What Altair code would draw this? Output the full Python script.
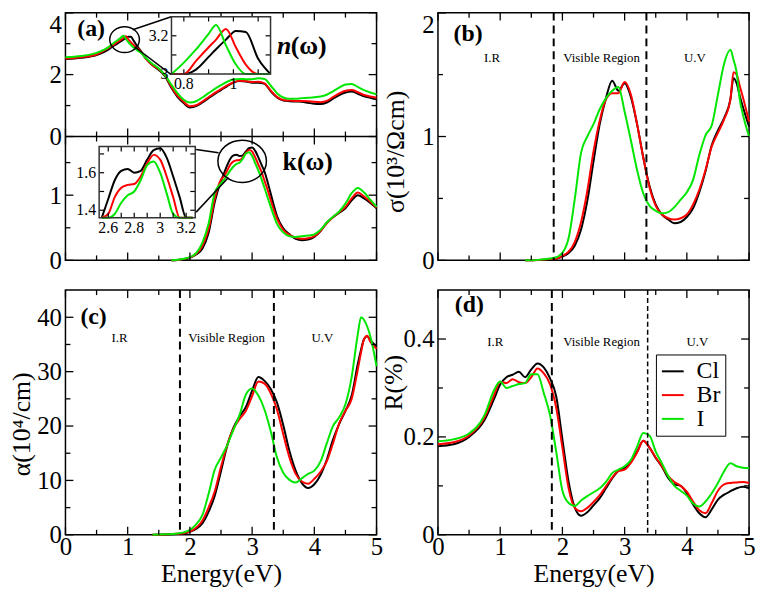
import altair as alt
import pandas as pd

FONT = "Liberation Serif, Times New Roman, serif"
SERIES = ["Cl", "Br", "I"]
COLORS = ["#000000", "#ff0000", "#00e600"]

# ---------------- data: n(omega) ----------------
N_X = [0, 0.25, 0.5, 0.7, 0.75, 0.8, 0.85, 0.9, 0.93, 0.97, 1.01, 1.05, 1.1, 1.15, 1.2,
       1.3, 1.4, 1.5, 1.6, 1.7, 1.8, 1.9, 2.0, 2.1, 2.2, 2.3, 2.4, 2.5, 2.6, 2.7, 2.8, 2.9,
       3.0, 3.1, 3.2, 3.3, 3.4, 3.5, 3.6, 3.7, 3.8, 3.9, 4.0, 4.1, 4.2, 4.3, 4.4, 4.5, 4.6,
       4.7, 4.8, 4.9, 5.0]
N_CL = [2.50, 2.54, 2.63, 2.82, 2.90, 2.96, 3.025, 3.09, 3.13, 3.18, 3.225, 3.22, 3.08, 2.93, 2.79,
        2.50, 2.30, 2.15, 1.95, 1.58, 1.28, 1.08, 0.94, 0.98, 1.10,
        1.24, 1.38, 1.50, 1.63, 1.74, 1.79, 1.78, 1.74, 1.74, 1.70,
        1.46, 1.26, 1.16, 1.14, 1.13, 1.12, 1.09, 1.06, 1.05, 1.10,
        1.22, 1.34, 1.42, 1.45, 1.38, 1.30, 1.25, 1.20]
N_BR = [2.52, 2.56, 2.65, 2.87, 2.93, 3.00, 3.07, 3.14, 3.18, 3.236, 3.14, 3.05, 2.95, 2.86, 2.77,
        2.49, 2.30, 2.17, 1.97, 1.62, 1.32, 1.12, 0.98, 1.01, 1.13,
        1.27, 1.41, 1.53, 1.65, 1.75, 1.80, 1.79, 1.76, 1.77, 1.72,
        1.48, 1.28, 1.18, 1.16, 1.15, 1.15, 1.14, 1.12, 1.11, 1.15,
        1.27, 1.39, 1.48, 1.50, 1.43, 1.34, 1.29, 1.25]
N_I = [2.56, 2.60, 2.70, 2.90, 2.98, 3.06, 3.13, 3.21, 3.256, 3.15, 3.05, 2.96, 2.87, 2.79, 2.72,
       2.52, 2.34, 2.20, 1.98, 1.68, 1.40, 1.19, 1.10, 1.14, 1.26,
       1.40, 1.54, 1.66, 1.77, 1.84, 1.86, 1.85, 1.85, 1.88, 1.86,
       1.64, 1.40, 1.26, 1.22, 1.22, 1.24, 1.25, 1.27, 1.29, 1.35,
       1.46, 1.58, 1.68, 1.70, 1.60, 1.50, 1.42, 1.36]

# ---------------- data: k(omega) ----------------
K_X = [1.7, 1.8, 1.9, 2.0, 2.1, 2.2, 2.3, 2.4, 2.5,
       2.55, 2.6, 2.65, 2.7, 2.75, 2.8, 2.85, 2.9, 2.95, 3.0, 3.05, 3.1, 3.15, 3.2, 3.25, 3.3,
       3.4, 3.5, 3.6, 3.7, 3.8, 3.9, 4.0, 4.1, 4.2, 4.3, 4.4, 4.5, 4.6, 4.7, 4.8, 4.9, 5.0]
K_CL = [0.0, 0.005, 0.015, 0.04, 0.09, 0.18, 0.42, 0.90, 1.22,
        1.34, 1.46, 1.56, 1.61, 1.62, 1.60, 1.61, 1.67, 1.72, 1.73, 1.68, 1.58, 1.47, 1.36, 1.20, 1.02,
        0.68, 0.49, 0.40, 0.33, 0.31, 0.32, 0.36, 0.45, 0.58, 0.66, 0.73, 0.80, 0.92, 1.00, 0.95, 0.88, 0.80]
K_BR = [0.0, 0.006, 0.02, 0.045, 0.10, 0.22, 0.48, 0.95, 1.24,
        1.29, 1.38, 1.47, 1.52, 1.535, 1.54, 1.58, 1.65, 1.695, 1.67, 1.58, 1.47, 1.36, 1.22, 1.08, 0.92,
        0.64, 0.47, 0.39, 0.35, 0.33, 0.34, 0.37, 0.45, 0.57, 0.66, 0.74, 0.82, 0.95, 1.04, 0.98, 0.90, 0.81]
K_I = [0.0, 0.01, 0.025, 0.05, 0.11, 0.27, 0.56, 1.04, 1.18,
       1.24, 1.31, 1.38, 1.44, 1.48, 1.50, 1.56, 1.64, 1.66, 1.60, 1.49, 1.38, 1.25, 1.11, 0.96, 0.82,
       0.56, 0.43, 0.37, 0.36, 0.37, 0.38, 0.40, 0.47, 0.58, 0.67, 0.75, 0.87, 1.03, 1.11, 1.04, 0.93, 0.82]

# ---------------- data: sigma and alpha ----------------
S_X = [1.4, 1.6, 1.8, 1.9, 2.0, 2.1, 2.2, 2.3, 2.4, 2.5, 2.6, 2.7, 2.8, 2.9, 3.0, 3.1, 3.2,
       3.3, 3.4, 3.5, 3.6, 3.7, 3.8, 3.9, 4.0, 4.1, 4.2, 4.3, 4.4, 4.5, 4.6, 4.7, 4.75, 4.8,
       4.85, 4.9, 5.0]
S_CL = [0.0, 0.003, 0.008, 0.013, 0.03, 0.06, 0.12, 0.25, 0.48, 0.80, 1.10, 1.31, 1.45, 1.37,
        1.43, 1.32, 1.10, 0.83, 0.60, 0.45, 0.37, 0.33, 0.30, 0.31, 0.35, 0.42, 0.55, 0.72, 0.93,
        1.05, 1.15, 1.30, 1.47, 1.43, 1.33, 1.24, 1.08]
S_BR = [0.0, 0.003, 0.01, 0.015, 0.035, 0.07, 0.15, 0.31, 0.56, 0.88, 1.13, 1.30, 1.35, 1.35,
        1.44, 1.34, 1.10, 0.83, 0.59, 0.44, 0.37, 0.34, 0.33, 0.34, 0.37, 0.45, 0.57, 0.73, 0.92,
        1.03, 1.14, 1.30, 1.52, 1.50, 1.41, 1.32, 1.12]
S_I = [0.0, 0.004, 0.015, 0.025, 0.06, 0.18, 0.50, 0.87, 1.00, 1.10, 1.22, 1.31, 1.37, 1.40,
       1.20, 0.97, 0.73, 0.54, 0.44, 0.40, 0.38, 0.39, 0.43, 0.49, 0.55, 0.65, 0.85, 1.01, 1.09,
       1.34, 1.59, 1.70, 1.62, 1.52, 1.30, 1.18, 1.00]

A_X = S_X
A_CL = [0.0, 0.05, 0.15, 0.25, 0.55, 1.1, 2.1, 4.2, 7.2, 11.7, 16.4, 19.7, 21.8, 23.5, 26.5,
        29.0, 28.3, 26.8, 24.3, 20.2, 15.4, 11.8, 9.5, 8.6, 9.3, 11.0, 13.8, 17.5, 20.4, 22.8,
        25.6, 31.5, 34.0, 36.0, 36.5, 35.8, 34.6]
A_BR = [0.0, 0.05, 0.18, 0.3, 0.6, 1.3, 2.6, 5.0, 8.0, 12.5, 16.5, 19.5, 21.3, 22.8, 25.5,
        28.2, 27.8, 26.0, 23.0, 18.5, 14.2, 11.2, 9.8, 9.4, 10.3, 11.6, 13.5, 16.8, 20.5, 22.8,
        25.0, 30.5, 33.5, 36.0, 36.6, 35.5, 34.2]
A_I = [0.0, 0.08, 0.25, 0.45, 0.9, 1.9, 3.6, 7.5, 12.0, 14.2, 16.5, 19.3, 22.1, 25.8, 26.9,
       25.6, 23.0, 19.0, 14.2, 11.4, 10.1, 9.6, 10.4, 11.2, 11.8, 13.5, 16.8, 20.0, 21.6, 24.0,
       29.0, 37.0, 40.0, 39.5, 38.3, 36.5, 31.0]

# ---------------- data: reflectivity ----------------
R_X = [0, 0.25, 0.5, 0.75, 0.9, 1.0, 1.1, 1.2, 1.3, 1.4, 1.5, 1.6, 1.7, 1.8, 1.9, 2.0, 2.1,
       2.2, 2.3, 2.4, 2.5, 2.6, 2.7, 2.8, 2.9, 3.0, 3.1, 3.2, 3.3, 3.4, 3.5, 3.6, 3.7, 3.8,
       3.9, 4.0, 4.1, 4.2, 4.3, 4.4, 4.5, 4.6, 4.7, 4.8, 4.9, 5.0]
R_CL = [0.181, 0.185, 0.200, 0.235, 0.277,
        0.307, 0.322, 0.327, 0.333, 0.322, 0.338, 0.350, 0.342, 0.320, 0.283,
        0.195, 0.108, 0.055, 0.039, 0.046, 0.060, 0.075, 0.095, 0.115, 0.131,
        0.137, 0.150, 0.170, 0.192, 0.178, 0.157, 0.139, 0.116, 0.103, 0.100,
        0.085, 0.062, 0.044, 0.036, 0.052, 0.072, 0.082, 0.089, 0.095, 0.098, 0.095]
R_BR = [0.185, 0.189, 0.203, 0.240, 0.285,
        0.312, 0.310, 0.318, 0.312, 0.310, 0.322, 0.340, 0.330, 0.308, 0.260,
        0.178, 0.095, 0.055, 0.048, 0.055, 0.067, 0.081, 0.099, 0.117, 0.130,
        0.133, 0.147, 0.168, 0.192, 0.178, 0.158, 0.140, 0.120, 0.108, 0.100,
        0.088, 0.068, 0.050, 0.044, 0.065, 0.090, 0.103, 0.106, 0.107, 0.108, 0.106]
R_I = [0.191, 0.195, 0.207, 0.245, 0.295,
       0.313, 0.300, 0.304, 0.308, 0.310, 0.328, 0.328, 0.290, 0.245, 0.170,
       0.090, 0.065, 0.059, 0.070, 0.079, 0.087, 0.095, 0.108, 0.126, 0.133,
       0.140, 0.153, 0.180, 0.208, 0.203, 0.170, 0.146, 0.120, 0.100, 0.090,
       0.080, 0.064, 0.058, 0.068, 0.085, 0.106, 0.130, 0.146, 0.140, 0.137, 0.136]

# ---------------- ticks, regions, annotations ----------------
X_MAJ = [0, 1, 2, 3, 4, 5]
X_MIN = [0.5, 1.5, 2.5, 3.5, 4.5]
REGIONS = ["I.R", "Visible Region", "U.V"]
DASH_B, DASH_C, DASH_D = [1.86, 3.35], [1.84, 3.35], [1.83, 3.37]
REG_X_B, REG_X_C, REG_X_D = [0.87, 2.63, 4.13], [0.87, 2.59, 4.13], [0.92, 2.63, 4.17]
REG_Y_B, REG_Y_C, REG_Y_D = 1.60, 35.5, 0.386

ELLIPSE = "M-1,0A1,0.87,0,1,1,1,0A1,0.87,0,1,1,-1,0Z"

W = 314
H_N, H_K, H_C = 125, 125, 247
H_NK = H_N + H_K
H_B, H_D = H_NK, H_C


def long(xs, cl, br, i):
    return pd.DataFrame({
        "x": list(xs) * 3,
        "y": list(cl) + list(br) + list(i),
        "s": [s for s in SERIES for _ in xs],
    })


def color(legend=None):
    return alt.Color("s:N", scale=alt.Scale(domain=SERIES, range=COLORS), legend=legend)


def make_enc(xdom, ydom, xaxis, yaxis, yrange=None):
    def X(f):
        return alt.X(f"{f}:Q", scale=alt.Scale(domain=xdom, nice=False, zero=False), axis=xaxis)

    def Y(f):
        if yrange is None:
            sc = alt.Scale(domain=ydom, nice=False, zero=False)
        else:
            sc = alt.Scale(domain=ydom, range=yrange, nice=False, zero=False)
        return alt.Y(f"{f}:Q", scale=sc, axis=yaxis)
    return X, Y


def tick_layers(X, Y, ymaj, ymin, Wd, ytop, ybot, major=8, minor=5):
    out = []
    for vals, L in ((X_MAJ, major), (X_MIN, minor)):
        base = alt.Chart(pd.DataFrame({"x": vals})).mark_rule(color="black", strokeWidth=1.3)
        out.append(base.encode(x=X("x"), y=alt.value(ytop), y2=alt.value(ytop + L)))
        out.append(base.encode(x=X("x"), y=alt.value(ybot), y2=alt.value(ybot - L)))
    for vals, L in ((ymaj, major), (ymin, minor)):
        base = alt.Chart(pd.DataFrame({"y": vals})).mark_rule(color="black", strokeWidth=1.3)
        out.append(base.encode(y=Y("y"), x=alt.value(0), x2=alt.value(L)))
        out.append(base.encode(y=Y("y"), x=alt.value(Wd), x2=alt.value(Wd - L)))
    return out


def top_label_layer(ydom, yrange, top_value):
    # the label at the very top edge of a panel, kept inside the panel like a flush label
    if yrange is None:
        sc = alt.Scale(domain=ydom, nice=False, zero=False)
    else:
        sc = alt.Scale(domain=ydom, range=yrange, nice=False, zero=False)
    return alt.Chart(pd.DataFrame({"y": [top_value]})).mark_rule(color="black", strokeWidth=1.3).encode(
        y=alt.Y("y:Q", scale=sc, axis=alt.Axis(values=[top_value], format="d", orient="left",
                                               labelPadding=4, title=None, labelFlush=True)),
        x=alt.value(0), x2=alt.value(8))


def text_layer(X, Y, xs, ys, labels, size, weight="normal", style="normal", align="left"):
    df = pd.DataFrame({"x": xs, "y": ys, "t": labels})
    return alt.Chart(df).mark_text(font=FONT, fontSize=size, fontWeight=weight, fontStyle=style,
                                   align=align, baseline="alphabetic", color="black").encode(
        x=X("x"), y=Y("y"), text="t:N")


def x_axis_full():
    return alt.Axis(values=X_MAJ, format="d", title="Energy(eV)", labelPadding=0, titlePadding=1)


def y_axis(values, title=None, tx=None, ty=None, fmt="d"):
    if title is None:
        return alt.Axis(values=values, format=fmt, orient="left", labelPadding=4, title=None)
    return alt.Axis(values=values, format=fmt, orient="left", labelPadding=4, title=title,
                    titleX=tx, titleY=ty, titleBaseline="alphabetic")


def inset(df, xdom, ydom, xr, yr, xt, yt, xl, xlt, yl, ylt):
    def Xi(f):
        return alt.X(f"{f}:Q", scale=alt.Scale(domain=xdom, range=xr, clamp=True, nice=False, zero=False), axis=None)

    def Yi(f):
        return alt.Y(f"{f}:Q", scale=alt.Scale(domain=ydom, range=yr, clamp=True, nice=False, zero=False), axis=None)
    one = pd.DataFrame({"a": [0]})
    box = dict(x=alt.value(xr[0]), x2=alt.value(xr[1]), y=alt.value(yr[1]), y2=alt.value(yr[0]))
    bg = alt.Chart(one).mark_rect(color="white").encode(**box)
    lines = alt.Chart(df).transform_filter(
        f"datum.x >= {xdom[0]} && datum.x <= {xdom[1]}"
    ).mark_line(strokeWidth=2, interpolate="monotone").encode(x=Xi("x"), y=Yi("y"), color=color())
    ticks = []
    tb = alt.Chart(pd.DataFrame({"x": xt})).mark_rule(color="black", strokeWidth=1.2)
    ticks.append(tb.encode(x=Xi("x"), y=alt.value(yr[0]), y2=alt.value(yr[0] - 5)))
    ticks.append(tb.encode(x=Xi("x"), y=alt.value(yr[1]), y2=alt.value(yr[1] + 5)))
    tl = alt.Chart(pd.DataFrame({"y": yt})).mark_rule(color="black", strokeWidth=1.2)
    ticks.append(tl.encode(y=Yi("y"), x=alt.value(xr[0]), x2=alt.value(xr[0] + 5)))
    ticks.append(tl.encode(y=Yi("y"), x=alt.value(xr[1]), x2=alt.value(xr[1] - 5)))
    border = alt.Chart(one).mark_rect(fillOpacity=0, stroke="#333333", strokeWidth=1.5).encode(**box)
    lx = alt.Chart(pd.DataFrame({"x": xl, "t": xlt})).mark_text(
        font=FONT, fontSize=16, baseline="top", align="center", color="black").encode(
        x=Xi("x"), y=alt.value(yr[0] + 2), text="t:N")
    ly = alt.Chart(pd.DataFrame({"y": yl, "t": ylt})).mark_text(
        font=FONT, fontSize=16, baseline="middle", align="right", color="black").encode(
        y=Yi("y"), x=alt.value(xr[0] - 3), text="t:N")
    return alt.layer(bg, lines, *ticks, border, lx, ly)


def lines_layer(df, X, Y, legend=None):
    return alt.Chart(df).mark_line(strokeWidth=2, interpolate="monotone").encode(
        x=X("x"), y=Y("y"), color=color(legend))


def ellipse_layer(X, Y, cx, cy, size):
    return alt.Chart(pd.DataFrame({"x": [cx], "y": [cy]})).mark_point(
        shape=ELLIPSE, size=size, filled=False, color="black", strokeWidth=1.5, opacity=1).encode(
        x=X("x"), y=Y("y"))


def connector_layer(X, Y, x1, y1, x2, y2):
    df = pd.DataFrame({"x": x1, "y": y1, "x2": x2, "y2": y2})
    return alt.Chart(df).mark_rule(color="black", strokeWidth=1.5).encode(
        x=X("x"), y=Y("y"), x2="x2:Q", y2="y2:Q")


def dash_layer(X, vals, dash=(8, 5), width=2):
    return alt.Chart(pd.DataFrame({"x": vals})).mark_rule(
        color="black", strokeWidth=width, strokeDash=list(dash)).encode(x=X("x"))


# ---------------- panel (a): n (top half) and k (bottom half) in one view ----------------
Xn, Yn = make_enc([0, 5], [0, 4], None, y_axis([0, 2]), yrange=[H_N, 0])
n_df = long(N_X, N_CL, N_BR, N_I)
n_main = alt.layer(
    lines_layer(n_df, Xn, Yn),
    *tick_layers(Xn, Yn, [0, 2, 4], [1, 3], W, 0, H_N),
    ellipse_layer(Xn, Yn, 0.95, 3.13, 900),
    connector_layer(Xn, Yn, [1.08, 1.11], [3.45, 2.90], [1.70, 1.70], [3.87, 2.0]),
    text_layer(Xn, Yn, [0.19], [3.26], ["(a)"], 24, weight="bold"),
    text_layer(Xn, Yn, [3.40], [2.65], ["n"], 26, weight="bold", style="italic"),
    text_layer(Xn, Yn, [3.62], [2.65], ["(ω)"], 26, weight="bold"),
)
n_top = top_label_layer([0, 4], [H_N, 0], 4)
n_inset = inset(n_df, [0.75, 1.15], [3.0, 3.3], [107, 207], [62, 4],
                [0.8, 0.9, 1.0, 1.1], [3.1, 3.2], [0.8, 1.0], ["0.8", "1"], [3.0, 3.2], ["3", "3.2"])

Xk, Yk = make_enc([0, 5], [0, 1.9], None, y_axis([0, 1]), yrange=[H_NK, H_N])
k_df = long(K_X, K_CL, K_BR, K_I)
k_main = alt.layer(
    lines_layer(k_df, Xk, Yk),
    *tick_layers(Xk, Yk, [0, 1], [0.5, 1.5], W, H_N, H_NK),
    alt.Chart(pd.DataFrame({"a": [0]})).mark_rule(color="black", strokeWidth=1.5).encode(
        x=alt.value(0), x2=alt.value(W), y=alt.value(H_N)),
    ellipse_layer(Xk, Yk, 2.84, 1.52, 2400),
    connector_layer(Xk, Yk, [2.10, 2.10], [1.70, 0.74], [2.46, 2.62], [1.65, 1.27]),
    text_layer(Xk, Yk, [3.49], [1.38], ["k(ω)"], 26, weight="bold"),
)
k_inset = inset(k_df, [2.53, 3.27], [1.36, 1.74], [34, 131], [H_N + 82, H_N + 10],
                [2.6, 2.7, 2.8, 2.9, 3.0, 3.1, 3.2], [1.4, 1.5, 1.6, 1.7],
                [2.6, 2.8, 3.0, 3.2], ["2.6", "2.8", "3", "3.2"], [1.4, 1.6], ["1.4", "1.6"])

nk_panel = alt.layer(n_main, n_top, n_inset, k_main, k_inset).resolve_scale(
    x="independent", y="independent").properties(width=W, height=H_NK)

# ---------------- panel (b): sigma ----------------
Xb, Yb = make_enc([0, 5], [0, 2], None, y_axis([0, 1], "σ(10³/Ωcm)", -35, 140))
b_main = alt.layer(
    lines_layer(long(S_X, S_CL, S_BR, S_I), Xb, Yb),
    dash_layer(Xb, DASH_B),
    *tick_layers(Xb, Yb, [0, 1, 2], [0.5, 1.5], W, 0, H_B),
    text_layer(Xb, Yb, [0.25], [1.77], ["(b)"], 24, weight="bold"),
    text_layer(Xb, Yb, REG_X_B, [REG_Y_B] * 3, REGIONS, 13, align="center"),
)
b_panel = alt.layer(b_main, top_label_layer([0, 2], None, 2)).resolve_scale(
    y="independent").properties(width=W, height=H_B)

# ---------------- panel (c): alpha ----------------
Xc, Yc = make_enc([0, 5], [0, 45], x_axis_full(), y_axis([0, 10, 20, 30, 40], "α(10⁴/cm)", -36, 135))
c_panel = alt.layer(
    lines_layer(long(A_X, A_CL, A_BR, A_I), Xc, Yc),
    dash_layer(Xc, DASH_C),
    *tick_layers(Xc, Yc, [0, 10, 20, 30, 40], [5, 15, 25, 35], W, 0, H_C),
    text_layer(Xc, Yc, [0.24], [38.7], ["(c)"], 24, weight="bold"),
    text_layer(Xc, Yc, REG_X_C, [REG_Y_C] * 3, REGIONS, 13, align="center"),
).properties(width=W, height=H_C)

# ---------------- panel (d): reflectivity ----------------
LEG = alt.Legend(orient="none", legendX=220, legendY=65, title=None, symbolType="stroke",
                 symbolSize=484, symbolStrokeWidth=2, labelFont=FONT, labelFontSize=24,
                 labelColor="black", strokeColor="black", fillColor="white", padding=5,
                 rowPadding=0, labelOffset=12, labelExpr="datum.label + '  '")
Xd, Yd = make_enc([0, 5], [0, 0.5], x_axis_full(), y_axis([0, 0.2, 0.4], "R(%)", -37, 93, fmt="~g"))
d_panel = alt.layer(
    lines_layer(long(R_X, R_CL, R_BR, R_I), Xd, Yd, legend=LEG),
    dash_layer(Xd, DASH_D[:1]),
    dash_layer(Xd, DASH_D[1:], dash=(5, 3), width=1.5),
    *tick_layers(Xd, Yd, [0, 0.2, 0.4], [0.1, 0.3], W, 0, H_D),
    text_layer(Xd, Yd, [0.27], [0.456], ["(d)"], 24, weight="bold"),
    text_layer(Xd, Yd, REG_X_D, [REG_Y_D] * 3, REGIONS, 13, align="center"),
).properties(width=W, height=H_D)

chart = alt.concat(
    nk_panel, b_panel, c_panel, d_panel, columns=2,
    spacing={"row": 30, "column": 62}, bounds="flush"
).resolve_scale(color="independent")

chart = chart.properties(
    padding={"left": 0, "top": 0, "right": 0, "bottom": 0}
).configure_view(
    stroke="black", strokeWidth=1.5
).configure_axis(
    labelFont=FONT, labelFontSize=25, labelColor="black", titleFont=FONT, titleFontSize=26,
    titleFontWeight="normal", titleColor="black", ticks=False, domain=False, grid=False,
    labelFlush=False, labelOverlap=False
)

chart.save("out.html", embed_options={"renderer": "svg", "actions": False})
